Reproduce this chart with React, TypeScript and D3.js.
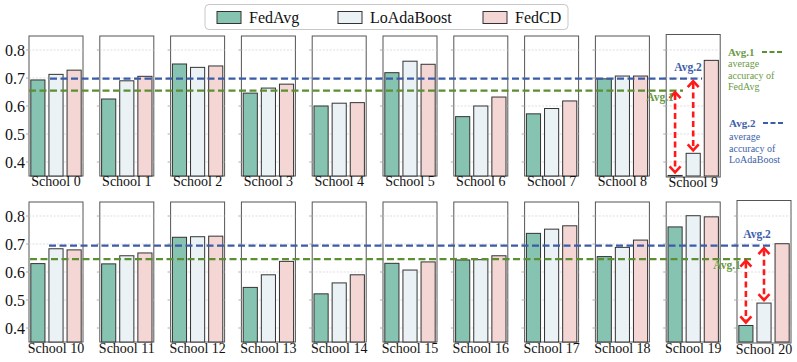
import React from "react";
import * as d3 from "d3";

const schools = d3.range(21).map((i) => `School ${i}`);
const fedAvg = [0.693, 0.625, 0.75, 0.646, 0.6, 0.719, 0.562, 0.572, 0.697, 0.352, 0.63, 0.629, 0.724, 0.545, 0.522, 0.631, 0.643, 0.738, 0.655, 0.761, 0.409];
const loAdaBoost = [0.713, 0.69, 0.738, 0.664, 0.61, 0.76, 0.6, 0.591, 0.707, 0.431, 0.683, 0.658, 0.726, 0.59, 0.561, 0.607, 0.644, 0.753, 0.688, 0.801, 0.489];
const fedCD = [0.728, 0.706, 0.743, 0.678, 0.612, 0.749, 0.632, 0.618, 0.707, 0.763, 0.679, 0.668, 0.728, 0.638, 0.59, 0.636, 0.658, 0.765, 0.714, 0.797, 0.701];
const seriesNames = ["FedAvg", "LoAdaBoost", "FedCD"];
const yTicks = [0.4, 0.5, 0.6, 0.7, 0.8];
const avg1 = [0.655, 0.646];
const avg2 = [0.698, 0.694];

const colors = ["#86c3b1", "#eaf2f6", "#f4d6d4"];
const blueLine = "#3b5ca8";
const greenLine = "#5b8f2f";
const greenText = "#6a9a45";
const blueText = "#3e5eaa";
const FONT = "'Liberation Serif', 'Times New Roman', serif";

const rows = [
  { top: 36, idx: d3.range(0, 10) },
  { top: 202, idx: d3.range(10, 21) },
];
const PW = 54;
const PH = 140;
const X0 = 29;
const STEP = 70.8;

function Arrow({ x, y1, y2 }: { x: number; y1: number; y2: number }) {
  const hw = 5.5, hl = 6;
  return (
    <g stroke="#ff1a1a" strokeWidth={2.6} fill="none">
      <line x1={x} x2={x} y1={y1 + 2} y2={y2 - 2} strokeDasharray="6,3.5" />
      <polyline points={`${x - hw},${y1 + hl} ${x},${y1} ${x + hw},${y1 + hl}`} strokeLinejoin="miter" />
      <polyline points={`${x - hw},${y2 - hl} ${x},${y2} ${x + hw},${y2 - hl}`} strokeLinejoin="miter" />
    </g>
  );
}

export default function App() {
  const series = [fedAvg, loAdaBoost, fedCD];
  const band = d3.scaleBand<number>().domain([0, 1, 2]).range([0, PW]).paddingInner(0.22).paddingOuter(0.1);

  return (
    <svg width={797} height={362} style={{ display: "block", position: "absolute", left: 0, top: 0 }} fontFamily={FONT}>
      <rect width={797} height={362} fill="#fff" />
      {rows.map((row, r) => {
        const y = d3.scaleLinear().domain([0.35, 0.85]).range([row.top + PH, row.top]);
        const lineEnds = r === 0 ? { g: [29, 683], b: [50, 702] } : { g: [30, 752], b: [49, 770] };
        const last = row.idx[row.idx.length - 1];
        const lastX = X0 + (row.idx.length - 1) * STEP;
        return (
          <g key={r}>
            {row.idx.map((si, k) => {
              const px = X0 + k * STEP;
              const isLast = si === last;
              const ext = isLast ? 1.5 : 0;
              return (
                <g key={si}>
                  <rect x={px} y={row.top - ext} width={PW} height={PH + ext + (isLast ? 1 : 0)} fill="#fff" stroke="#555" strokeWidth={1} />
                  {yTicks.map((t) => (
                    <g key={t}>
                      <line x1={px} x2={px + PW} y1={y(t)} y2={y(t)} stroke="#d0d0d0" strokeWidth={0.7} strokeDasharray="2,1.5" />
                      <line x1={px - 3} x2={px} y1={y(t)} y2={y(t)} stroke="#999" strokeWidth={0.8} />
                    </g>
                  ))}
                  {k === 0 &&
                    yTicks.map((t) => (
                      <text key={t} x={px - 4} y={y(t)} dy="0.35em" textAnchor="end" fontSize={16} fill="#111">
                        {t.toFixed(1)}
                      </text>
                    ))}
                  {series.map((s, j) => (
                    <rect
                      key={j}
                      x={px + (band(j) as number)}
                      y={y(s[si])}
                      width={band.bandwidth()}
                      height={row.top + PH - y(s[si])}
                      fill={colors[j]}
                      stroke="#333"
                      strokeWidth={1}
                    />
                  ))}
                  <text x={px + PW / 2} y={row.top + PH + (r === 0 ? 10 : 11) + (isLast ? 1 : 0)} textAnchor="middle" fontSize={14} fill="#111">
                    {schools[si]}
                  </text>
                </g>
              );
            })}
            <line x1={lineEnds.g[0]} x2={lineEnds.g[1]} y1={y(avg1[r])} y2={y(avg1[r])} stroke={greenLine} strokeWidth={2.2} strokeDasharray="7,3.5" />
            <line x1={lineEnds.b[0]} x2={lineEnds.b[1]} y1={y(avg2[r])} y2={y(avg2[r])} stroke={blueLine} strokeWidth={2.2} strokeDasharray="7,3.5" />
            {(() => {
              const gx = lastX + (band(0) as number) + band.bandwidth() / 2;
              const bx = lastX + (band(1) as number) + band.bandwidth() / 2;
              return (
                <g>
                  <Arrow x={gx} y1={y(avg1[r]) + 1.5} y2={y(fedAvg[last]) - 3} />
                  <Arrow x={bx} y1={y(avg2[r]) + 2.5} y2={y(loAdaBoost[last]) - 3} />
                  <text x={r === 0 ? 688 : 757} y={y(avg2[r]) - 8} textAnchor="middle" fontSize={11.5} fontWeight="bold" fill={blueText}>
                    Avg.2
                  </text>
                  <text x={r === 0 ? 660 : 727} y={y(avg1[r]) + 10} textAnchor="middle" fontSize={11.5} fontWeight="bold" fill={greenText}>
                    Avg.1
                  </text>
                </g>
              );
            })()}
          </g>
        );
      })}

      {/* side notes */}
      <g fontSize={10}>
        <text x={728} y={56} fontWeight="bold" fontSize={11} fill={greenText}>Avg.1</text>
        <line x1={762} x2={783} y1={52} y2={52} stroke={greenLine} strokeWidth={2.2} strokeDasharray="5,2.5" />
        <text x={728} y={67} fill={greenText}>average</text>
        <text x={728} y={78.5} fill={greenText}>accuracy of</text>
        <text x={728} y={90} fill={greenText}>FedAvg</text>
        <text x={729} y={127} fontWeight="bold" fontSize={11} fill={blueText}>Avg.2</text>
        <line x1={763} x2={784} y1={123} y2={123} stroke={blueLine} strokeWidth={2.2} strokeDasharray="5,2.5" />
        <text x={729} y={140} fill={blueText}>average</text>
        <text x={729} y={151.5} fill={blueText}>accuracy of</text>
        <text x={729} y={163} fill={blueText}>LoAdaBoost</text>
      </g>

      {/* legend */}
      <g>
        <rect x={205} y={4.5} width={363} height={25} rx={4} fill="#fff" stroke="#c8c8c8" strokeWidth={1} />
        {seriesNames.map((n, i) => {
          const lx = [217, 338, 483][i];
          return (
            <g key={n}>
              <rect x={lx} y={11.5} width={24} height={12} fill={colors[i]} stroke="#333" strokeWidth={1} />
              <text x={lx + 32} y={22.5} fontSize={16} fill="#111">{n}</text>
            </g>
          );
        })}
      </g>
    </svg>
  );
}
